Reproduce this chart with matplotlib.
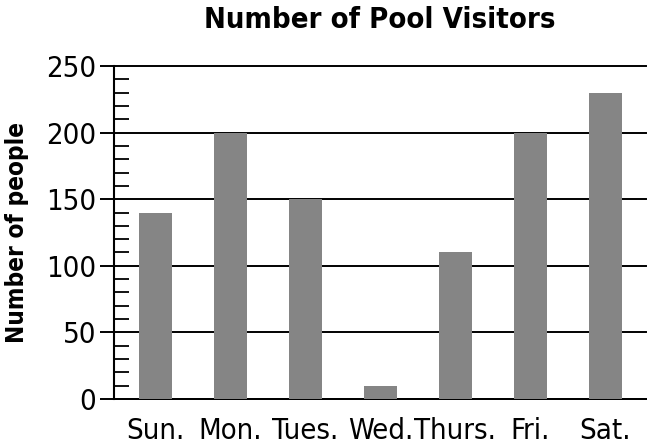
import matplotlib.pyplot as plt
from matplotlib.ticker import MultipleLocator

# Data
days = ["Sun.", "Mon.", "Tues.", "Wed.", "Thurs.", "Fri.", "Sat."]
visitors = [140, 200, 150, 10, 110, 200, 230]

plt.rcParams["font.family"] = ["DejaVu Sans"]
plt.rcParams["font.stretch"] = "condensed"

fig = plt.figure(figsize=(6.47, 4.47), dpi=100)
ax = fig.add_axes([114 / 647, 48 / 447, 532 / 647, 333 / 447])

ax.bar(range(len(days)), visitors, width=0.44, color="#858585", zorder=3)

ax.set_xlim(-0.553, 6.54)
ax.set_ylim(0, 250)
ax.set_xticks(range(len(days)))
ax.set_xticklabels(days, fontsize=21)

ax.yaxis.set_major_locator(MultipleLocator(50))
ax.yaxis.set_minor_locator(MultipleLocator(10))
ax.tick_params(axis="y", which="major", direction="out", length=10,
               width=1.4, labelsize=21, pad=3)
ax.tick_params(axis="y", which="minor", direction="in", length=11, width=1.3)
ax.tick_params(axis="x", length=0, pad=13)

ax.grid(axis="y", which="major", color="black", linewidth=1.4, zorder=1)
# keep the top line at 250 full thickness
for line in ax.get_ygridlines():
    line.set_clip_on(False)

for side in ["top", "right"]:
    ax.spines[side].set_visible(False)
ax.spines["left"].set_linewidth(1.5)
ax.spines["bottom"].set_linewidth(1.4)

ax.set_title("Number of Pool Visitors", fontsize=21, fontweight="bold", pad=27)
ax.set_ylabel("Number of people", fontsize=17.5, fontweight="bold", labelpad=12)

plt.savefig("out.png")
